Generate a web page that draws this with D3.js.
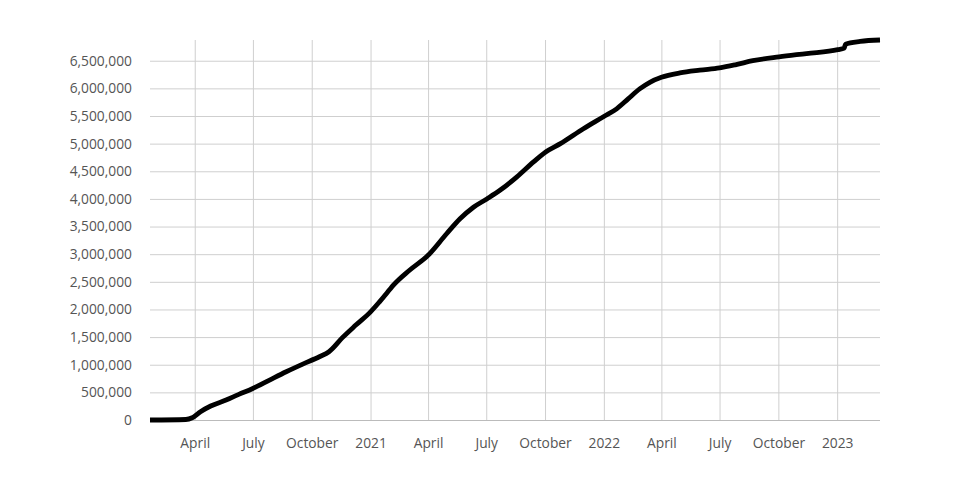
<!DOCTYPE html>
<html>
<head>
<meta charset="utf-8">
<script src="https://cdn.jsdelivr.net/npm/d3@7"></script>
<style>
  html, body { margin: 0; padding: 0; background: #fff; }
  svg text { font-family: "Open Sans", sans-serif; font-size: 13.8px; fill: #555; }
</style>
</head>
<body>
<svg id="chart" width="960" height="500"></svg>
<script>
const dates = [
  "2020-01-22","2020-03-18","2020-03-28","2020-04-10","2020-04-26","2020-05-20","2020-06-09","2020-06-30",
  "2020-07-27","2020-08-22","2020-09-17","2020-10-13","2020-10-28","2020-11-18","2020-12-09","2021-01-01",
  "2021-01-15","2021-01-31","2021-02-05","2021-03-03","2021-04-01","2021-04-30","2021-05-21","2021-06-11",
  "2021-07-02","2021-07-23","2021-08-18","2021-09-13","2021-10-02","2021-10-25","2021-11-30","2022-01-01",
  "2022-01-21","2022-02-08","2022-02-26","2022-03-14","2022-04-01","2022-04-30","2022-05-31","2022-07-01",
  "2022-07-27","2022-08-22","2022-10-02","2022-11-14","2023-01-02","2023-01-12","2023-01-14","2023-02-06",
  "2023-03-09"
];
const deaths = [
  17, 9000, 40000, 150000, 253000, 361000, 464000, 566000,
  723000, 873000, 1012000, 1144000, 1235000, 1490000, 1717000, 1957000,
  2138000, 2360000, 2430000, 2710000, 2980000, 3370000, 3640000, 3850000,
  4000000, 4160000, 4400000, 4670000, 4850000, 5000000, 5270000, 5490000,
  5630000, 5810000, 5990000, 6110000, 6200000, 6280000, 6330000, 6370000,
  6430000, 6500000, 6570000, 6630000, 6700000, 6730000, 6800000, 6850000,
  6875000
];
const yTicks = [0,500000,1000000,1500000,2000000,2500000,3000000,3500000,4000000,4500000,5000000,5500000,6000000,6500000];
const xTickDates = ["2020-04-01","2020-07-01","2020-10-01","2021-01-01","2021-04-01","2021-07-01","2021-10-01","2022-01-01","2022-04-01","2022-07-01","2022-10-01","2023-01-01"];
const xTickLabels = ["April","July","October","2021","April","July","October","2022","April","July","October","2023"];

const parse = d3.utcParse("%Y-%m-%d");
const data = dates.map((d, i) => ({ date: parse(d), value: deaths[i] }));

const mLeft = 150, mRight = 880, mTop = 40, mBottom = 420;
const svg = d3.select("#chart");

const x = d3.scaleUtc().domain(d3.extent(data, d => d.date)).range([mLeft, mRight]);
const y = d3.scaleLinear().domain([0, d3.max(data, d => d.value)]).range([mBottom, mTop]);

// horizontal grid + y axis labels
const yAxis = d3.axisLeft(y).tickValues(yTicks).tickFormat(d3.format(",")).tickSize(0).tickPadding(18);
const gy = svg.append("g").attr("transform", `translate(${mLeft},0)`).call(yAxis);
gy.select(".domain").remove();
gy.selectAll(".tick line").attr("stroke", "#cfcfcf").attr("stroke-width", 1).attr("x1", 0).attr("x2", mRight - mLeft);
gy.selectAll(".tick text").style("font-family", "'Open Sans', sans-serif").style("font-size", "13.8px").attr("fill", "#555");

// vertical grid + x axis labels
const xAxis = d3.axisBottom(x).tickValues(xTickDates.map(parse))
  .tickFormat((d, i) => xTickLabels[i]).tickSize(0).tickPadding(18);
const gx = svg.append("g").attr("transform", `translate(0,${mBottom})`).call(xAxis);
gx.select(".domain").remove();
gx.selectAll(".tick line").attr("stroke", "#cfcfcf").attr("stroke-width", 1).attr("y1", 0).attr("y2", mTop - mBottom);
gx.selectAll(".tick text").style("font-family", "'Open Sans', sans-serif").style("font-size", "13.8px").attr("fill", "#555");

// baseline
svg.append("line").attr("x1", mLeft).attr("x2", mRight).attr("y1", y(0) + 0.5).attr("y2", y(0) + 0.5)
  .attr("stroke", "#bbb").attr("stroke-width", 1);

// line
const line = d3.line().x(d => x(d.date)).y(d => y(d.value)).curve(d3.curveMonotoneX);
svg.append("path").datum(data).attr("d", line)
  .attr("fill", "none").attr("stroke", "#000").attr("stroke-width", 4.8)
  .attr("stroke-linejoin", "round").attr("stroke-linecap", "butt");
</script>
</body>
</html>
